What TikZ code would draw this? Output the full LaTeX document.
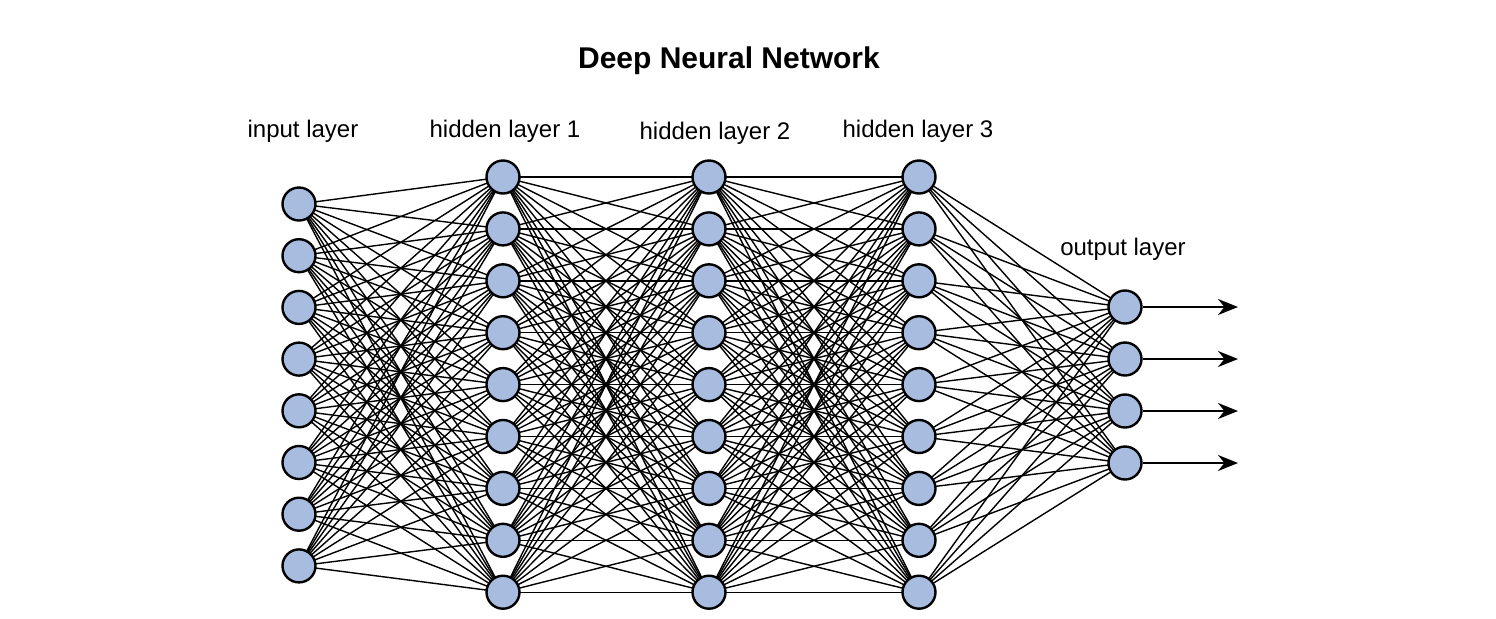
\documentclass[tikz,border=0pt]{standalone}
\usepackage{fontspec}
\setmainfont{Liberation Sans}
\usetikzlibrary{arrows.meta,calc}
\definecolor{neuron}{RGB}{168,188,224}
\tikzset{
  neuronnode/.style={circle,draw=black,line width=1.2pt,fill=neuron,minimum size=16.5pt,inner sep=0pt},
  edge/.style={line width=0.7pt,black},
  outarrow/.style={line width=1.3pt,-{Stealth[length=10pt,width=8pt]}},
  layerlabel/.style={font=\fontsize{12}{14}\selectfont,anchor=center}
}
\begin{document}
\begin{tikzpicture}[x=0.5pt,y=-0.5pt]
\useasboundingbox (0,0) rectangle (1496,618);
\node[font=\bfseries\fontsize{15}{18}\selectfont] (title) at (729,61) {Deep Neural Network};
\node[layerlabel] (lin) at (303,131) {input layer};
\node[layerlabel] (lh1) at (505,131) {hidden layer 1};
\node[layerlabel] (lh2) at (715,133) {hidden layer 2};
\node[layerlabel] (lh3) at (918,131) {hidden layer 3};
\node[layerlabel] (lout) at (1123,249) {output layer};
% input layer
\foreach \i in {1,...,8} {
  \pgfmathsetmacro{\yy}{204+51.7*(\i-1)}
  \coordinate (I\i) at (299,\yy);
}
\foreach \i in {1,...,9} {
  \pgfmathsetmacro{\yy}{177+51.9*(\i-1)}
  \coordinate (A\i) at (503,\yy);
  \coordinate (B\i) at (709,\yy);
  \coordinate (C\i) at (919,\yy);
}
\foreach \i in {1,...,4} {
  \pgfmathsetmacro{\yy}{307+52*(\i-1)}
  \coordinate (O\i) at (1125,\yy);
}
% edges
\foreach \i in {1,...,8} \foreach \j in {1,...,9} \draw[edge] (I\i) -- (A\j);
\foreach \i in {1,...,9} \foreach \j in {1,...,9} {
  \draw[edge] (A\i) -- (B\j);
  \draw[edge] (B\i) -- (C\j);
}
\foreach \i in {1,...,9} \foreach \j in {1,...,4} \draw[edge] (C\i) -- (O\j);
% nodes
\foreach \i in {1,...,8} \node[neuronnode] (in\i) at (I\i) {};
\foreach \i in {1,...,9} {
  \node[neuronnode] (ha\i) at (A\i) {};
  \node[neuronnode] (hb\i) at (B\i) {};
  \node[neuronnode] (hc\i) at (C\i) {};
}
\foreach \i in {1,...,4} {
  \node[neuronnode] (out\i) at (O\i) {};
  \coordinate (E\i) at ($(O\i)+(113,0)$);
}
\foreach \i in {1,...,4} \draw[outarrow] (out\i) -- (E\i);
\end{tikzpicture}
\end{document}
